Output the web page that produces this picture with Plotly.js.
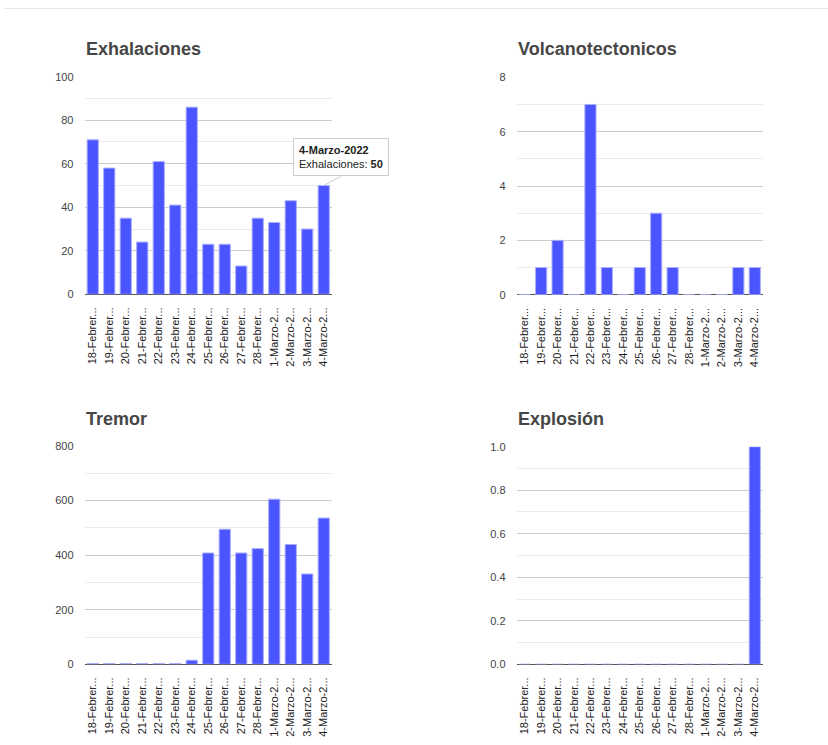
<!DOCTYPE html>
<html>
<head>
<meta charset="utf-8">
<script src="https://cdn.plot.ly/plotly-3.0.1.min.js"></script>
<style>html,body{margin:0;padding:0;background:#fff;}#chart{width:828px;height:745px;}</style>
</head>
<body>
<div id="chart"></div>
<script>
// ---- data ----
const categories = ["18-Febrero-2022","19-Febrero-2022","20-Febrero-2022","21-Febrero-2022","22-Febrero-2022","23-Febrero-2022","24-Febrero-2022","25-Febrero-2022","26-Febrero-2022","27-Febrero-2022","28-Febrero-2022","1-Marzo-2022","2-Marzo-2022","3-Marzo-2022","4-Marzo-2022"];
const tickLabels = ["18-Febrer...","19-Febrer...","20-Febrer...","21-Febrer...","22-Febrer...","23-Febrer...","24-Febrer...","25-Febrer...","26-Febrer...","27-Febrer...","28-Febrer...","1-Marzo-2...","2-Marzo-2...","3-Marzo-2...","4-Marzo-2..."];
const exhalaciones = [71, 58, 35, 24, 61, 41, 86, 23, 23, 13, 35, 33, 43, 30, 50];
const volcanotectonicos = [0, 1, 2, 0, 7, 1, 0, 1, 3, 1, 0, 0, 0, 1, 1];
const tremor = [3, 3, 3, 3, 3, 3, 15, 408, 495, 408, 424, 605, 439, 331, 536];
const explosion = [0, 0, 0, 0, 0, 0, 0, 0, 0, 0, 0, 0, 0, 0, 1];
const panelTitles = ["Exhalaciones", "Volcanotectonicos", "Tremor", "Explosión"];
const tooltipIndex = 14;

// ---- styling ----
const W = 828, H = 745;
const barColor = '#4a55ff';
const barLine = '#a9aeff';
const px = v => v / W;
const py = v => 1 - v / H;
const FONT = 'Liberation Sans, Arial, sans-serif';

function barTrace(values, name, n) {
  return {
    type: 'bar', x: categories, y: values, name: name,
    xaxis: 'x' + (n === 1 ? '' : n), yaxis: 'y' + (n === 1 ? '' : n),
    marker: {color: barColor, line: {color: barLine, width: 1}},
    hoverinfo: 'x+y', showlegend: false
  };
}

const data = [
  barTrace(exhalaciones, panelTitles[0], 1),
  barTrace(volcanotectonicos, panelTitles[1], 2),
  barTrace(tremor, panelTitles[2], 3),
  barTrace(explosion, panelTitles[3], 4)
];

function xax(x0, x1) {
  return {
    domain: [px(x0), px(x1)], anchor: 'free', type: 'category',
    range: [-0.5, categories.length - 0.5], autorange: false,
    tickmode: 'array', tickvals: categories, ticktext: tickLabels,
    tickangle: -90, tickfont: {family: FONT, size: 11, color: '#222'},
    showgrid: false, zeroline: false, showline: false, ticks: '',
    ticklabelstandoff: 10, fixedrange: true
  };
}
function yax(yTop, yBot, range, dtick, minor, fmt) {
  return {
    domain: [py(yBot), py(yTop)], range: range, autorange: false, dtick: dtick, tick0: 0,
    tickformat: fmt || '',
    tickfont: {family: FONT, size: 11, color: '#444'},
    showgrid: true, gridcolor: '#cccccc', gridwidth: 1,
    minor: {dtick: minor, showgrid: true, gridcolor: '#ebebeb', gridwidth: 1, ticks: ''},
    zeroline: true, zerolinecolor: '#555', zerolinewidth: 1.5,
    showline: false, ticks: '', ticklabelstandoff: 10, fixedrange: true
  };
}

const LX0 = 84.5, LX1 = 332, RX0 = 516.5, RX1 = 763;
function title(t, x, y) {
  return {text: '<b>' + t + '</b>', xref: 'paper', yref: 'paper', x: px(x), y: py(y),
    xanchor: 'left', yanchor: 'bottom', showarrow: false,
    font: {family: FONT, size: 18, color: '#464646'}};
}
const layout = {
  width: W, height: H,
  margin: {l: 0, r: 0, t: 0, b: 0},
  paper_bgcolor: '#fff', plot_bgcolor: 'rgba(0,0,0,0)',
  bargap: 0.32,
  xaxis: Object.assign(xax(LX0, LX1), {position: py(294.3)}),
  yaxis: Object.assign(yax(76.7, 294.3, [0, 100], 20, 10), {anchor: 'x'}),
  xaxis2: Object.assign(xax(RX0, RX1), {position: py(294.7)}),
  yaxis2: Object.assign(yax(77.3, 294.7, [0, 8], 2, 1), {anchor: 'x2'}),
  xaxis3: Object.assign(xax(LX0, LX1), {position: py(664.3)}),
  yaxis3: Object.assign(yax(446, 664.3, [0, 800], 200, 100), {anchor: 'x3'}),
  xaxis4: Object.assign(xax(RX0, RX1), {position: py(664.3)}),
  yaxis4: Object.assign(yax(446.7, 664.3, [0, 1], 0.2, 0.1, '.1f'), {anchor: 'x4'}),
  shapes: [
    {type: 'line', xref: 'paper', yref: 'paper', x0: px(4), x1: 1, y0: py(8.5), y1: py(8.5),
     line: {color: '#e6e6e6', width: 1}}
  ],
  annotations: [
    title(panelTitles[0], 84, 61),
    title(panelTitles[1], 516, 61),
    title(panelTitles[2], 84, 431),
    title(panelTitles[3], 516, 431),
    {
      xref: 'x', yref: 'y', x: categories[tooltipIndex], y: exhalaciones[tooltipIndex],
      text: '<b>' + categories[tooltipIndex] + '</b><br>' + panelTitles[0] + ': <b>' + exhalaciones[tooltipIndex] + '</b>',
      align: 'left', showarrow: true, arrowhead: 0, arrowwidth: 1, arrowcolor: '#cccccc',
      ax: 17, ay: -9, xanchor: 'center', yanchor: 'bottom',
      bgcolor: '#ffffff', bordercolor: '#cccccc', borderwidth: 1, borderpad: 5,
      font: {family: FONT, size: 11, color: '#222'}
    }
  ]
};

Plotly.newPlot('chart', data, layout, {displayModeBar: false, staticPlot: true});
</script>
</body>
</html>
